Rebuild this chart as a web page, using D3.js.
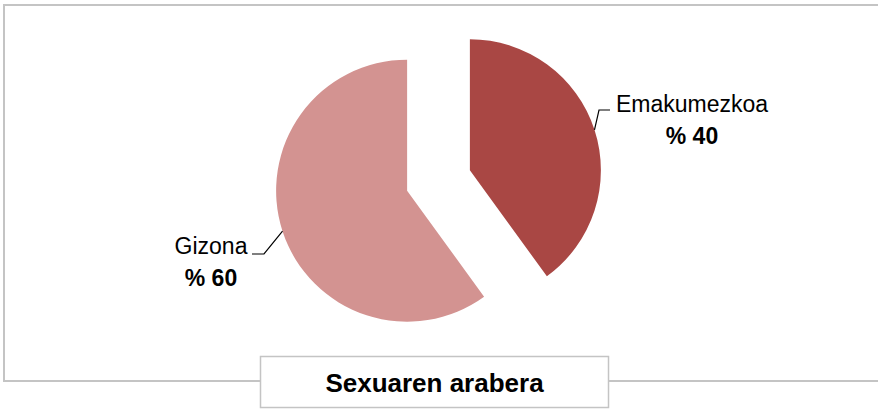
<!DOCTYPE html>
<html>
<head>
<meta charset="utf-8">
<script src="https://cdn.jsdelivr.net/npm/d3@7/dist/d3.min.js"></script>
<style>
html,body{margin:0;padding:0;background:#fff;}
svg{display:block;}
text{font-family:"Liberation Sans",Arial,sans-serif;}
</style>
</head>
<body>
<svg id="chart" width="878" height="409"></svg>
<script>
const categories = ["Emakumezkoa", "Gizona"];
const values = [40, 60];
const valueLabels = ["% 40", "% 60"];
const colors = ["#A94744", "#D39391"];
const title = "Sexuaren arabera";

const svg = d3.select("#chart");
const W = 878, H = 409;

// outer frame
svg.append("rect").attr("x", 4).attr("y", 5).attr("width", 880).attr("height", 376)
  .attr("fill", "#fff").attr("stroke", "#C4C4C4").attr("stroke-width", 2);

const cx = 438.5, cy = 180.5, r = 131, explode = 33;

const pie = d3.pie().sort(null).value(d => d.value).startAngle(0);
const data = categories.map((c, i) => ({cat: c, value: values[i], label: valueLabels[i], color: colors[i]}));
const arcs = pie(data);
const arc = d3.arc().innerRadius(0).outerRadius(r);

// label layout: [text anchor x, first baseline y, elbow offsets]
const labelPos = [
  {x: 692, y: 112, elbow: [599, 110], end: [610, 110]},
  {x: 211, y: 254, elbow: [264, 254], end: [252, 254]}
];

const g = svg.append("g");
arcs.forEach((a, i) => {
  const mid = (a.startAngle + a.endAngle) / 2;
  const ox = cx + explode * Math.sin(mid);
  const oy = cy - explode * Math.cos(mid);
  g.append("path").attr("d", arc(a)).attr("transform", `translate(${ox},${oy})`)
    .attr("fill", a.data.color);
  const sx = ox + r * Math.sin(mid), sy = oy - r * Math.cos(mid);
  const lp = labelPos[i];
  svg.append("path")
    .attr("d", d3.line()([[sx, sy], lp.elbow, lp.end]))
    .attr("fill", "none").attr("stroke", "#000").attr("stroke-width", 1.2);
  svg.append("text").attr("x", lp.x).attr("y", lp.y).attr("text-anchor", "middle")
    .attr("font-size", 23).attr("fill", "#000").text(a.data.cat);
  svg.append("text").attr("x", lp.x).attr("y", lp.y + 32).attr("text-anchor", "middle")
    .attr("font-size", 23).attr("font-weight", "bold").attr("fill", "#000").text(a.data.label);
});

// title box
svg.append("rect").attr("x", 260.5).attr("y", 356.5).attr("width", 348).attr("height", 51)
  .attr("fill", "#fff").attr("stroke", "#C4C4C4").attr("stroke-width", 1.5);
svg.append("text").attr("x", 434.5).attr("y", 392).attr("text-anchor", "middle")
  .attr("font-size", 26).attr("font-weight", "bold").attr("fill", "#000").text(title);
</script>
</body>
</html>
